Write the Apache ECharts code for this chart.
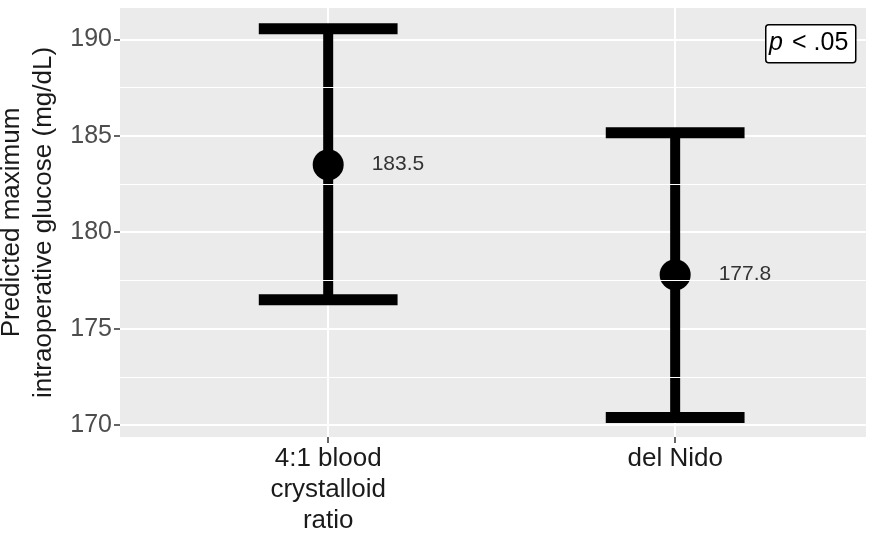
<!DOCTYPE html>
<html>
<head>
<meta charset="utf-8">
<script src="https://cdn.jsdelivr.net/npm/echarts@6/dist/echarts.min.js"></script>
<style>
  html, body { margin: 0; padding: 0; background: #fff; }
  #chart { width: 872px; height: 536px; }
</style>
</head>
<body>
<div id="chart"></div>
<script>
// Group labels and their positions on the discrete x scale
const groups = ['4:1 blood\ncrystalloid\nratio', 'del Nido'];
const groupPos = [1, 2];

// Predicted maximum glucose with 95% interval (mg/dL)
const estimate = [183.5, 177.8];
const lower = [176.5, 170.4];
const upper = [190.55, 185.15];

// y-axis breaks
const yMajor = [170, 175, 180, 185, 190];
const yMinor = [172.5, 177.5, 182.5, 187.5];

const FONT = 'Liberation Sans, Arial, sans-serif';
const capHalf = 0.2;

const chart = echarts.init(document.getElementById('chart'), null, { renderer: 'canvas' });

const pointData = groupPos.map((x, i) => [x, estimate[i]]);
const barData = groupPos.map((x, i) => [x, lower[i], upper[i]]);

chart.setOption({
  animation: false,
  grid: {
    left: 120, right: 6, top: 8, bottom: 99,
    containLabel: false, outerBoundsMode: 'none',
    show: true, backgroundColor: '#EBEBEB', borderWidth: 0
  },
  xAxis: {
    type: 'value',
    min: 0.4, max: 2.55,
    axisLine: { show: false },
    axisTick: { show: true, length: 6, lineStyle: { color: '#333', width: 1.5 }, customValues: groupPos },
    axisLabel: {
      customValues: groupPos,
      formatter: v => groups[groupPos.indexOf(v)] || '',
      color: '#1a1a1a', fontSize: 26, fontFamily: FONT, lineHeight: 31, margin: 6
    },
    splitLine: { show: true, lineStyle: { color: '#ffffff', width: 2 } }
  },
  yAxis: {
    type: 'value',
    min: 169.39, max: 191.62,
    name: 'Predicted maximum\nintraoperative glucose (mg/dL)',
    nameLocation: 'middle', nameRotate: 90, nameGap: 48,
    nameTextStyle: { color: '#1a1a1a', fontSize: 26, fontFamily: FONT, lineHeight: 32 },
    axisLine: { show: false },
    axisTick: { show: true, length: 6, lineStyle: { color: '#333', width: 1.5 }, customValues: yMajor },
    axisLabel: {
      customValues: yMajor,
      color: '#4d4d4d', fontSize: 25, fontFamily: FONT, margin: 8
    },
    splitLine: { show: true, lineStyle: { color: '#ffffff', width: 2 } }
  },
  series: [
    {
      // minor horizontal grid lines
      type: 'line',
      data: [],
      silent: true,
      markLine: {
        silent: true, symbol: 'none', label: { show: false },
        lineStyle: { color: '#ffffff', width: 1.2, type: 'solid' },
        data: yMinor.map(v => ({ yAxis: v }))
      }
    },
    {
      type: 'custom',
      data: barData,
      z: 3,
      renderItem: function (params, api) {
        const x = api.value(0);
        const lo = api.coord([x, api.value(1)]);
        const hi = api.coord([x, api.value(2)]);
        const loL = api.coord([x - capHalf, api.value(1)]);
        const loR = api.coord([x + capHalf, api.value(1)]);
        const hiL = api.coord([x - capHalf, api.value(2)]);
        const hiR = api.coord([x + capHalf, api.value(2)]);
        const st = { stroke: '#000', lineWidth: 11, lineCap: 'butt' };
        return {
          type: 'group',
          children: [
            { type: 'line', shape: { x1: lo[0], y1: lo[1], x2: hi[0], y2: hi[1] }, style: Object.assign({}, st, { lineWidth: 10 }) },
            { type: 'line', shape: { x1: loL[0], y1: loL[1], x2: loR[0], y2: loR[1] }, style: st },
            { type: 'line', shape: { x1: hiL[0], y1: hiL[1], x2: hiR[0], y2: hiR[1] }, style: st }
          ]
        };
      }
    },
    {
      type: 'scatter',
      data: pointData,
      z: 4,
      symbol: 'circle',
      symbolSize: 31,
      itemStyle: { color: '#000', opacity: 1 },
      label: {
        show: true, position: 'right', distance: 28,
        formatter: p => p.value[1].toFixed(1),
        color: '#333', fontSize: 21, fontFamily: FONT
      }
    }
  ],
  graphic: [
    { type: 'rect', left: 765, top: 24, z: 100, zlevel: 1,
      shape: { x: 0, y: 0, width: 90, height: 38, r: 3 },
      style: { fill: '#fff', stroke: '#000', lineWidth: 1.5 } },
    { type: 'text', left: 769, top: 31, z: 101, zlevel: 1,
      style: {
        text: 'p', fontStyle: 'italic', fontSize: 25, fontFamily: FONT, fill: '#000'
      } },
    { type: 'text', left: 792, top: 31, z: 101, zlevel: 1,
      style: {
        text: '< .05', fontSize: 25, fontFamily: FONT, fill: '#000'
      } }
  ]
});
</script>
</body>
</html>
